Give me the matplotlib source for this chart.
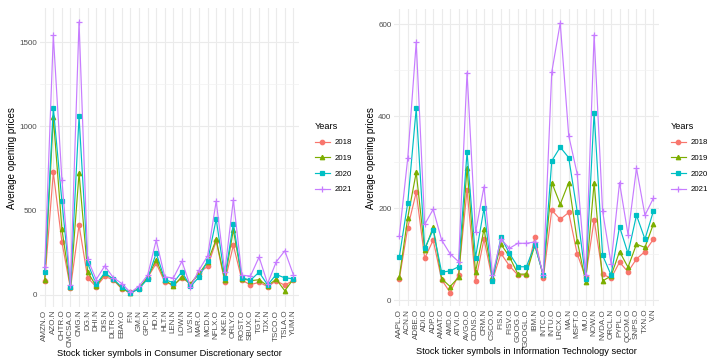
import matplotlib
matplotlib.use("Agg")
import matplotlib.pyplot as plt
from matplotlib.ticker import MultipleLocator
import numpy as np

plt.rcParams["font.family"] = ["Liberation Sans", "DejaVu Sans"]

years = ["2018", "2019", "2020", "2021"]
colors = ["#F8766D", "#7CAE00", "#00BFC4", "#C77CFF"]
markers = ["o", "^", "s", "+"]

cd_tickers = ["AMZN.O", "AZO.N", "CHTR.O", "CMCSA.O", "CMG.N", "DG.N", "DHI.N", "DIS.N",
              "DLTR.O", "EBAY.O", "F.N", "GM.N", "GPC.N", "HD.N", "HLT.N", "LEN.N",
              "LOW.N", "LVS.N", "MAR.O", "MCD.N", "NFLX.O", "NKE.N", "ORLY.O", "ROST.O",
              "SBUX.O", "TGT.N", "TJX.N", "TSCO.O", "TSLA.O", "YUM.N"]
cd_2018 = [81, 726, 313, 36, 414, 101, 45, 109, 86, 33, 12, 35, 100, 185, 75, 55,
           98, 65, 128, 168, 318, 75, 293, 85, 58, 73, 47, 81, 55, 85]
cd_2019 = [89, 1053, 390, 42, 722, 135, 49, 125, 92, 36, 9, 37, 102, 207, 85, 52,
           106, 62, 124, 195, 328, 85, 385, 95, 82, 88, 52, 91, 22, 92]
cd_2020 = [133, 1111, 555, 45, 1059, 186, 61, 129, 90, 45, 7, 35, 92, 247, 89, 70,
           135, 48, 104, 200, 448, 100, 422, 100, 85, 133, 57, 119, 99, 94]
cd_2021 = [164, 1541, 684, 55, 1621, 210, 89, 170, 100, 65, 12, 50, 115, 323, 105, 98,
           198, 47, 145, 230, 556, 135, 563, 114, 110, 223, 65, 194, 260, 118]

it_tickers = ["AAPL.O", "ACN.N", "ADBE.O", "ADI.O", "ADP.O", "AMAT.O", "AMD.O", "ATVI.O",
              "AVGO.O", "CDNS.O", "CRM.N", "CSCO.O", "FIS.N", "FISV.O", "GOOG.O", "GOOGL.O",
              "IBM.N", "INTC.O", "INTU.O", "LRCX.O", "MA.N", "MSFT.O", "MU.O", "NOW.N",
              "NVDA.O", "ORCL.N", "PYPL.O", "QCOM.O", "SNPS.O", "TXN.O", "V.N"]
it_2018 = [46, 158, 235, 91, 131, 45, 17, 55, 240, 42, 133, 44, 102, 75, 55, 55,
           137, 48, 196, 176, 191, 101, 50, 175, 57, 48, 83, 62, 90, 106, 133]
it_2019 = [50, 180, 278, 109, 159, 47, 30, 50, 288, 62, 155, 50, 122, 95, 57, 57,
           120, 55, 256, 209, 256, 130, 40, 256, 42, 53, 106, 72, 122, 115, 166]
it_2020 = [94, 212, 417, 113, 153, 61, 64, 73, 322, 93, 200, 42, 138, 102, 73, 73,
           120, 55, 303, 333, 310, 193, 47, 408, 98, 55, 160, 102, 185, 133, 194]
it_2021 = [140, 309, 561, 165, 198, 131, 101, 84, 495, 148, 247, 55, 133, 113, 124, 124,
           127, 55, 496, 603, 358, 275, 55, 577, 194, 80, 256, 143, 287, 185, 222]

W, H = 714, 364


def px_axes(fig, x0, y0, x1, y1):
    """Add axes from pixel box (top-left origin)."""
    return fig.add_axes([x0 / W, (H - y1) / H, (x1 - x0) / W, (y1 - y0) / H])


def draw_panel(ax, tickers, series, major, xtitle, leg_x, ylab_x):
    x = np.arange(len(tickers))
    for vals, c, m, yr in zip(series, colors, markers, years):
        ms = 4.5 if m == "+" else 3.2
        ax.plot(x, vals, color=c, marker=m, ms=ms, lw=0.85, mew=0.9, label=yr)

    lo = min(min(s) for s in series)
    hi = max(max(s) for s in series)
    pad = (hi - lo) * 0.05
    ax.set_ylim(lo - pad, hi + pad)
    ax.set_xlim(-0.6, len(tickers) - 0.4)

    ax.set_xticks(x)
    ax.set_xticklabels(tickers, rotation=90, fontsize=5.8, color="#4D4D4D")
    ax.yaxis.set_major_locator(MultipleLocator(major))
    ax.yaxis.set_minor_locator(MultipleLocator(major / 2))
    ax.tick_params(axis="y", labelsize=5.8, colors="#4D4D4D")
    ax.tick_params(length=0, pad=2, which="both")
    ax.grid(True, which="major", color="#EBEBEB", lw=0.8)
    ax.grid(True, which="minor", axis="y", color="#F2F2F2", lw=0.5)
    ax.set_axisbelow(True)
    for s in ax.spines.values():
        s.set_visible(False)

    ax.set_xlabel(xtitle, fontsize=6.7, va="center")
    ax.xaxis.set_label_coords(0.5, -0.1545)
    ax.set_ylabel("Average opening prices", fontsize=7.0, va="center")
    ax.yaxis.set_label_coords(ylab_x, 0.5)

    leg = ax.legend(title="Years", loc="upper left", frameon=False,
                    bbox_to_anchor=(leg_x / W, 1 - 118 / H),
                    bbox_transform=ax.figure.transFigure,
                    fontsize=5.6, title_fontsize=6.6, handlelength=1.9,
                    handletextpad=0.6, labelspacing=1.05, borderpad=0,
                    alignment="left")
    return leg


fig = plt.figure(figsize=(W / 100, H / 100), dpi=100)

ax1 = px_axes(fig, 39.6, 8.4, 298.5, 306.9)
draw_panel(ax1, cd_tickers, [cd_2018, cd_2019, cd_2020, cd_2021], 500,
           "Stock ticker symbols in Consumer Discretionary sector", 311, -0.1085)

ax2 = px_axes(fig, 394.2, 9.4, 658.5, 306.0)
draw_panel(ax2, it_tickers, [it_2018, it_2019, it_2020, it_2021], 200,
           "Stock ticker symbols in Information Technology sector", 667, -0.0878)

fig.savefig("out.png", dpi=100)
